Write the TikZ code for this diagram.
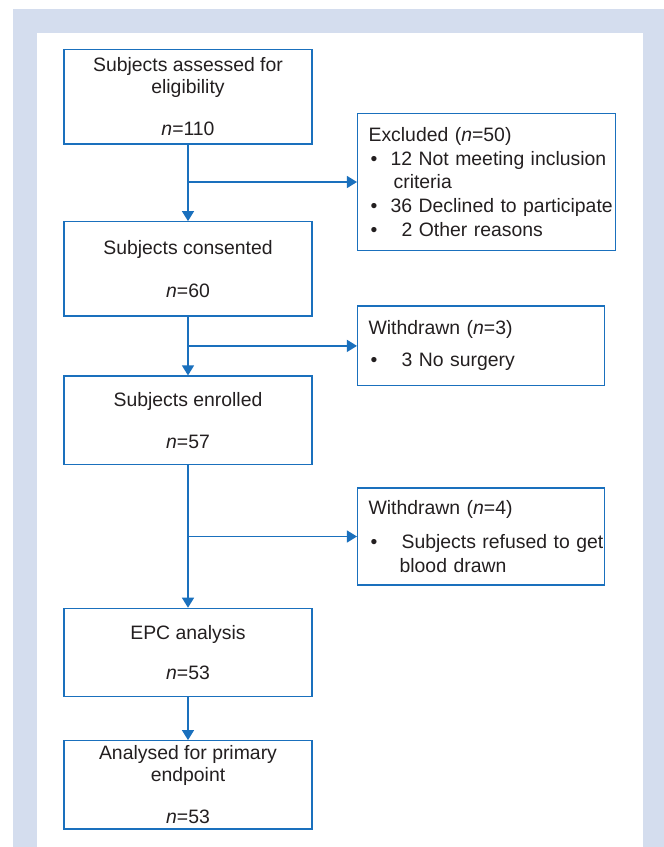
\documentclass[tikz,border=0pt]{standalone}
\usepackage{fontspec}
\setmainfont{Liberation Sans}
\usetikzlibrary{arrows.meta, positioning}

\definecolor{flowblue}{RGB}{26,112,189}
\definecolor{framebg}{RGB}{212,221,238}
\definecolor{textgrey}{RGB}{35,31,32}

% bullet line, kept on one line
\newcommand{\bitem}[2][22pt]{\mbox{\makebox[#1][l]{\hspace{2pt}\textbullet}#2}}

\begin{document}
\begin{tikzpicture}[
        x=1pt, y=-1pt,
        stage/.style={rectangle, draw=flowblue, line width=1.3pt, minimum width=248pt, inner sep=0pt, align=center, text=textgrey, font=\fontsize{19.4pt}{21.2pt}\selectfont},
        side/.style={rectangle, draw=flowblue, line width=1.3pt, inner xsep=11pt, inner ysep=0pt, align=left, text=textgrey, font=\fontsize{19.4pt}{23.6pt}\selectfont},
        flow/.style={draw=flowblue, line width=1.3pt, -{Triangle[width=12pt, length=10pt]}}
    ]
        \useasboundingbox (0,0) rectangle (664,847);

        % Frame
        \fill[white] (0,0) rectangle (664,847);
        \fill[framebg] (13,9) rectangle (664,847);
        \fill[white] (37,33) rectangle (643,847);

        % Main flow
        \node[stage, minimum height=94.7pt] (assessed) at (188,96.7) {Subjects assessed for\\eligibility\\[21.2pt]\textit{n}=110};
        \node[stage, minimum height=94.3pt, below=76.4pt of assessed] (consented) {Subjects consented\\[22pt]\textit{n}=60};
        \node[stage, minimum height=88.3pt, below=58.7pt of consented] (enrolled) {Subjects enrolled\\[21pt]\textit{n}=57};
        \node[stage, minimum height=88.4pt, below=142.7pt of enrolled] (epc) {EPC analysis\\[19pt]\textit{n}=53};
        \node[stage, minimum height=88.3pt, below=42.7pt of epc] (analysed) {Analysed for primary\\endpoint\\[21.5pt]\textit{n}=53};

        % Drop-outs
        \node[side, text width=236pt, minimum height=137.4pt, right=44.3pt of assessed, yshift=-85.3pt] (excluded) {Excluded (\textit{n}=50)\\
            \bitem{12 Not meeting inclusion}\\
            \hspace*{25pt}criteria\\
            \bitem{36 Declined to participate}\\
            \bitem[33pt]{2 Other reasons}};
        \node[side, text width=225pt, minimum height=79.7pt, right=44.3pt of consented, yshift=-77pt] (withdrawnA) {Withdrawn (\textit{n}=3)\\[8.5pt]
            \bitem[33pt]{3 No surgery}};
        \node[side, text width=225pt, minimum height=97pt, right=44.3pt of enrolled, yshift=-116.3pt] (withdrawnB) {Withdrawn (\textit{n}=4)\\[10.5pt]
            \bitem[33pt]{Subjects refused to get}\\
            \hspace*{31pt}blood drawn};

        % Connections
        \draw[flow] (assessed) -- (consented);
        \draw[flow] (consented) -- (enrolled);
        \draw[flow] (enrolled) -- (epc);
        \draw[flow] (epc) -- (analysed);
        \draw[flow] (assessed.south |- excluded.west) -- (excluded.west);
        \draw[flow] (consented.south |- withdrawnA.west) -- (withdrawnA.west);
        \draw[flow] (enrolled.south |- withdrawnB.west) -- (withdrawnB.west);
    \end{tikzpicture}
\end{document}
